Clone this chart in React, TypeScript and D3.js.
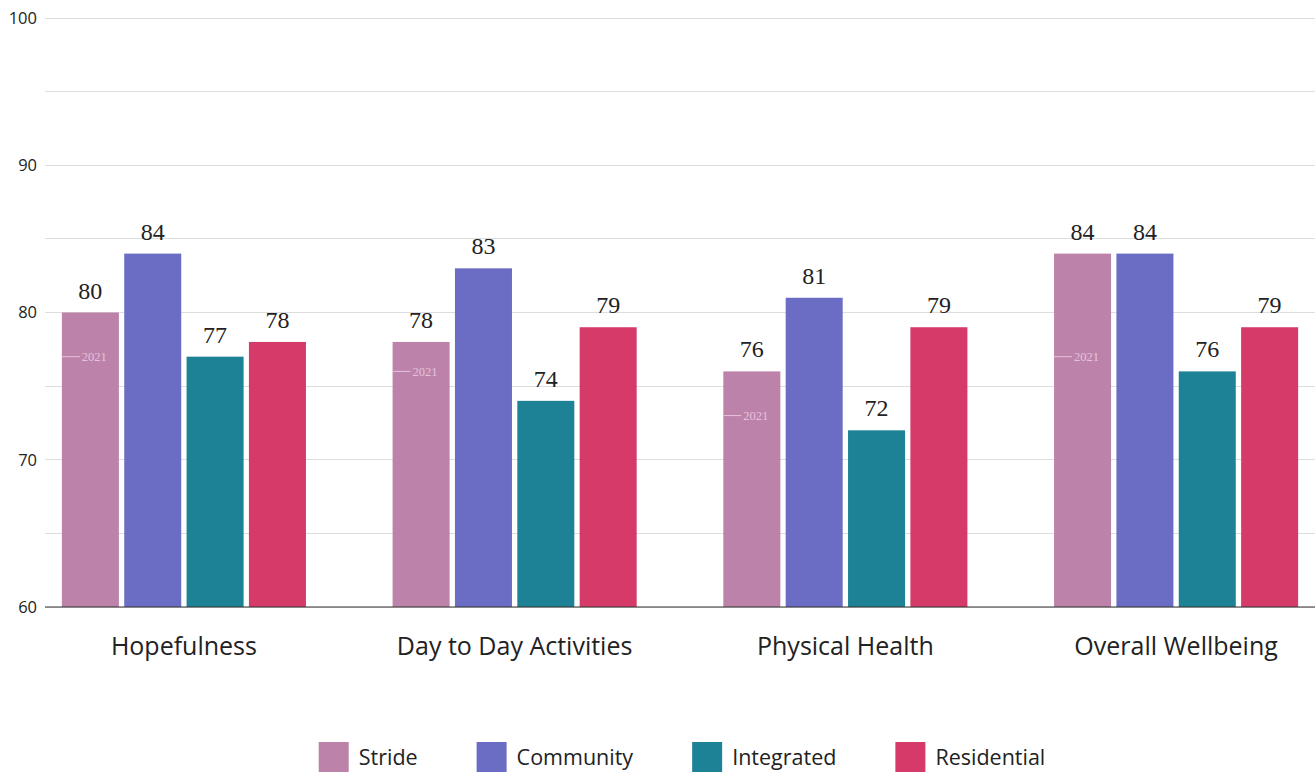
import React, { useEffect, useRef } from "react";
import * as d3 from "d3";

const categories = ["Hopefulness", "Day to Day Activities", "Physical Health", "Overall Wellbeing"];
const seriesNames = ["Stride", "Community", "Integrated", "Residential"];
const stride = [80, 78, 76, 84];
const community = [84, 83, 81, 84];
const integrated = [77, 74, 72, 76];
const residential = [78, 79, 79, 79];
const stride2021 = [77, 76, 73, 77];
const colors = ["#bc82aa", "#6b6cc4", "#1e8296", "#d63a68"];
const yTickLabels = [60, 70, 80, 90, 100];
const yGridValues = [60, 65, 70, 75, 80, 85, 90, 95, 100];

export default function App() {
  const ref = useRef<SVGSVGElement>(null);

  useEffect(() => {
    const svg = d3.select(ref.current);
    svg.selectAll("*").remove();
    const left = 45, right = 1315, top = 18, bottom = 607;
    const sans = "'Open Sans', 'Noto Sans', sans-serif";
    const serif = "'Liberation Serif', 'DejaVu Serif', serif";

    const y = d3.scaleLinear().domain([60, 100]).range([bottom, top]);
    const x0 = d3.scaleBand<string>().domain(categories).range([left, right]).paddingInner(0.262).paddingOuter(0.051);
    const x1 = d3.scaleBand<string>().domain(seriesNames).range([0, x0.bandwidth()]).paddingInner(0.0856);

    const values = [stride, community, integrated, residential];

    // grid
    svg.append("g").selectAll("line").data(yGridValues).join("line")
      .attr("x1", left).attr("x2", right)
      .attr("y1", d => y(d)).attr("y2", d => y(d))
      .attr("stroke", "#dddddd").attr("stroke-width", 1).attr("shape-rendering", "crispEdges");

    svg.append("g").selectAll("text").data(yTickLabels).join("text")
      .attr("x", 37).attr("y", d => y(d)).attr("dy", "0.35em")
      .attr("text-anchor", "end").attr("font-family", sans).attr("font-size", 16.5).attr("fill", "#222")
      .text(d => String(d));

    // bars
    const groups = svg.append("g").selectAll("g").data(categories).join("g")
      .attr("transform", c => `translate(${x0(c)},0)`);

    groups.each(function (c, ci) {
      const g = d3.select(this);
      seriesNames.forEach((s, si) => {
        const v = values[si][ci];
        const bx = x1(s)!;
        g.append("rect")
          .attr("x", bx).attr("width", x1.bandwidth())
          .attr("y", y(v)).attr("height", bottom - y(v))
          .attr("fill", colors[si]);
        g.append("text")
          .attr("x", bx + x1.bandwidth() / 2).attr("y", y(v) - 14)
          .attr("text-anchor", "middle").attr("font-family", serif).attr("font-size", 24).attr("fill", "#222")
          .text(String(v));
      });
      // 2021 marker on Stride
      const sx = x1("Stride")!;
      const my = y(stride2021[ci]);
      g.append("line")
        .attr("x1", sx).attr("x2", sx + 18).attr("y1", my).attr("y2", my)
        .attr("stroke", "#e6c3dc").attr("stroke-width", 1);
      g.append("text")
        .attr("x", sx + 20).attr("y", my).attr("dy", "0.35em")
        .attr("font-family", serif).attr("font-size", 12.5).attr("fill", "#e6c3dc")
        .text("2021");
    });

    // baseline
    svg.append("line").attr("x1", left).attr("x2", right).attr("y1", bottom).attr("y2", bottom)
      .attr("stroke", "#333").attr("stroke-width", 1.2);

    // category labels
    svg.append("g").selectAll("text").data(categories).join("text")
      .attr("x", c => x0(c)! + x0.bandwidth() / 2).attr("y", 655)
      .attr("text-anchor", "middle").attr("font-family", sans).attr("font-size", 25).attr("fill", "#222")
      .text(c => c);

    // legend
    const lg = svg.append("g");
    let cx = 0;
    seriesNames.forEach((s, i) => {
      const g = lg.append("g").attr("transform", `translate(${cx},0)`);
      g.append("rect").attr("x", 0).attr("y", 742).attr("width", 30).attr("height", 30).attr("fill", colors[i]);
      const t = g.append("text").attr("x", 40).attr("y", 765)
        .attr("font-family", sans).attr("font-size", 21.5).attr("fill", "#222").text(s);
      const tw = (t.node() as SVGTextElement).getComputedTextLength();
      cx += 40 + tw + (i < seriesNames.length - 1 ? 59 : 0);
    });
    lg.attr("transform", `translate(${682 - cx / 2},0)`);
  }, []);

  return (
    <svg ref={ref} width={1315} height={772}
      style={{ position: "absolute", left: 0, top: 0, background: "#fff" }} />
  );
}
